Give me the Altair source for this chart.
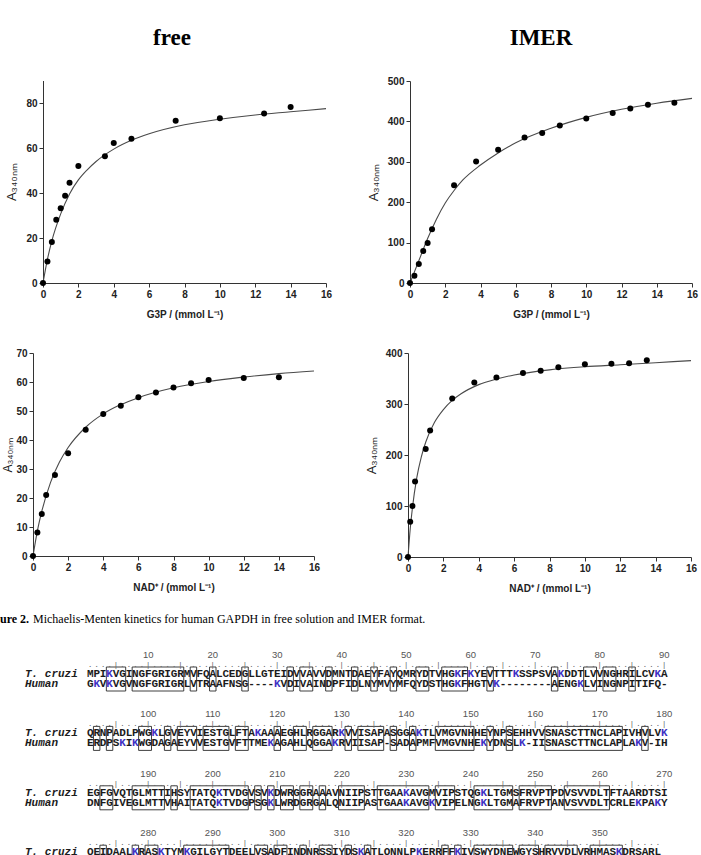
import altair as alt
import pandas as pd

W, H = 701, 855

# ---------------- kinetics ----------------
free_g3p_s = [0, 0.25, 0.5, 0.75, 1.0, 1.25, 1.5, 2.0, 3.5, 4.0, 5.0, 7.5, 10.0, 12.5, 14.0]
free_g3p_a = [0, 9.6, 18.2, 28.1, 33.2, 38.8, 44.6, 52.0, 56.3, 62.2, 64.1, 72.1, 73.2, 75.3, 78.2]
free_g3p_fit_s = [0, 0.25, 0.5, 1, 1.5, 2, 2.5, 3, 4, 5, 6, 8, 10, 12, 14, 16]
free_g3p_fit_a = [0, 10.5, 18.7, 30.7, 39.6, 45.8, 50.3, 54.0, 59.5, 63.4, 66.3, 70.3, 72.8, 74.7, 76.1, 77.5]

imer_g3p_s = [0, 0.25, 0.5, 0.75, 1.0, 1.25, 2.5, 3.75, 5.0, 6.5, 7.5, 8.5, 10.0, 11.5, 12.5, 13.5, 15.0]
imer_g3p_a = [0, 18, 47, 79, 99, 133, 242, 301, 330, 360, 371, 390, 407, 421, 432, 441, 446]
imer_g3p_fit_s = [0, 0.5, 1, 1.5, 2, 2.5, 3, 4, 5, 6, 8, 10, 12, 14, 16]
imer_g3p_fit_a = [0, 55, 110, 158, 198, 229, 255, 292, 322, 347, 383, 410, 430, 445, 457]

free_nad_s = [0, 0.25, 0.5, 0.75, 1.25, 2, 3, 4, 5, 6, 7, 8, 9, 10, 12, 14]
free_nad_a = [0, 8.1, 14.5, 21.0, 27.9, 35.4, 43.5, 49.0, 51.8, 54.7, 56.4, 58.1, 59.6, 60.7, 61.4, 61.6]
free_nad_fit_s = [0, 0.25, 0.5, 1, 1.5, 2, 3, 4, 5, 6, 8, 10, 12, 14, 16]
free_nad_fit_a = [0, 8.7, 15.4, 25.4, 32.3, 37.4, 44.4, 49.0, 52.2, 54.6, 58.0, 60.2, 61.7, 62.9, 63.8]

imer_nad_s = [0, 0.125, 0.25, 0.4, 1.0, 1.25, 2.5, 3.75, 5.0, 6.5, 7.5, 8.5, 10.0, 11.5, 12.5, 13.5]
imer_nad_a = [0, 69, 100, 148, 212, 248, 311, 342, 352, 361, 365, 372, 378, 379, 380, 386]
imer_nad_fit_s = [0, 0.1, 0.25, 0.5, 0.75, 1, 1.5, 2, 2.5, 3, 4, 5, 6, 8, 10, 12, 14, 16]
imer_nad_fit_a = [0, 45, 96, 156, 196, 225, 264, 289, 307, 320, 338, 349, 357, 367, 373, 377, 381, 385]

x_ticks = [0, 2, 4, 6, 8, 10, 12, 14, 16]
g3p_title = "G3P / (mmol L⁻¹)"
nad_title = "NAD⁺ / (mmol L⁻¹)"
y_title = "A₃₄₀ₙₘ"

# ---------------- alignment ----------------
cruzi_rows = [
    "MPIKVGINGFGRIGRMVFQALCEDGLLGTEIDVVAVVDMNTDAEYFAYQMRYDTVHGKFKYEVTTTKSSPSVAKDDTLVVNGHRILCVKA",
    "QRNPADLPWGKLGVEYVIESTGLFTAKAAAEGHLRGGARKVVISAPASGGAKTLVMGVNHHEYNPSEHHVVSNASCTTNCLAPIVHVLVK",
    "EGFGVQTGLMTTIHSYTATQKTVDGVSVKDWRGGRAAAVNIIPSTTGAAKAVGMVIPSTQGKLTGMSFRVPTPDVSVVDLTFTAARDTSI",
    "QEIDAALKRASKTYMKGILGYTDEELVSADFINDNRSSIYDSKATLQNNLPKERRFFKIVSWYDNEWGYSHRVVDLVRHMASKDRSARL",
]
human_rows = [
    "GKVKVGVNGFGRIGRLVTRAAFNSG----KVDIVAINDPFIDLNYMVYMFQYDSTHGKFHGTVK--------AENGKLVINGNPITIFQ-",
    "ERDPSKIKWGDAGAEYVVESTGVFTTMEKAGAHLQGGAKRVIISAP-SADAPMFVMGVNHEKYDNSLK-IISNASCTTNCLAPLAKV-IH",
    "DNFGIVEGLMTTVHAITATQKTVDGPSGKLWRDGRGALQNIIPASTGAAKAVGKVIPELNGKLTGMAFRVPTANVSVVDLTCRLEKPAKY",
    "DDIKKVVKQASEGPLKGILGYTEHQVVSSDFNSDTHSSTFDAGAG----IALNDHFVKLISWYDNEFGYSNRVVDLMAHMASKE-----",
]
names = ["T. cruzi", "Human"]
block_len = 90

BLUE = "#3d2fc4"
INK = "#1c1c1c"


def kin_panel(s, a, fs, fa, xr, yr, ydom, yticks, xtitle, tpad=7, tsize=13):
    xs = alt.Scale(domain=[0, 16], range=xr, nice=False, zero=False)
    ys = alt.Scale(domain=ydom, range=yr, nice=False, zero=False)
    xa = alt.Axis(orient="bottom", offset=yr[0] - H, values=x_ticks, title=xtitle,
                  titlePadding=10, labelFlush=False)
    ya = alt.Axis(orient="left", offset=-xr[0], values=yticks, title=y_title,
                  titleFontWeight="normal", titleFontSize=tsize, titlePadding=tpad)
    fit = alt.Chart(pd.DataFrame({"s": fs, "a": fa})).mark_line(
        interpolate="monotone", color="#4a4a4a", strokeWidth=1.1
    ).encode(x=alt.X("s:Q", scale=xs, axis=xa), y=alt.Y("a:Q", scale=ys, axis=ya))
    pts = alt.Chart(pd.DataFrame({"s": s, "a": a})).mark_circle(
        size=36, color="black", opacity=1
    ).encode(x=alt.X("s:Q", scale=xs, axis=xa), y=alt.Y("a:Q", scale=ys, axis=ya))
    return alt.layer(fit, pts)


p_tl = kin_panel(free_g3p_s, free_g3p_a, free_g3p_fit_s, free_g3p_fit_a,
                 [43, 326], [283, 80.5], [0, 90], [0, 20, 40, 60, 80], g3p_title)
p_tr = kin_panel(imer_g3p_s, imer_g3p_a, imer_g3p_fit_s, imer_g3p_fit_a,
                 [410, 692], [283, 81], [0, 500], [0, 100, 200, 300, 400, 500], g3p_title)
p_bl = kin_panel(free_nad_s, free_nad_a, free_nad_fit_s, free_nad_fit_a,
                 [33, 314], [556, 353], [0, 70], [0, 10, 20, 30, 40, 50, 60, 70], nad_title,
                 tpad=1, tsize=12)
p_br = kin_panel(imer_nad_s, imer_nad_a, imer_nad_fit_s, imer_nad_fit_a,
                 [408, 691], [557, 353], [0, 400], [0, 100, 200, 300, 400], nad_title)

# ---------------- alignment tables ----------------
cr, hu, nums, ruler, boxes, nm = [], [], [], [], [], []
for b in range(len(cruzi_rows)):
    c, h = cruzi_rows[b], human_rows[b]
    for i, ch in enumerate(c):
        cr.append({"block": b, "pos": i + 1, "ch": ch})
        ruler.append({"block": b, "pos": i + 1, "ch": "|" if (i + 1) % 5 == 0 else "."})
        if (i + 1) % 10 == 0:
            nums.append({"block": b, "pos": i + 1, "lab": str(b * block_len + i + 1)})
    for i, ch in enumerate(h):
        hu.append({"block": b, "pos": i + 1, "ch": ch})
    start = None
    n = min(len(c), len(h))
    for i in range(n + 1):
        same = i < n and c[i] == h[i] and c[i] != "-"
        if same and start is None:
            start = i + 1
        if not same and start is not None:
            boxes.append({"block": b, "x1": start - 0.5, "x2": i + 0.5})
            start = None
    nm.append({"block": b, "n1": names[0], "n2": names[1]})

cr_df, hu_df = pd.DataFrame(cr), pd.DataFrame(hu)
num_df, ru_df = pd.DataFrame(nums), pd.DataFrame(ruler)
box_df, nm_df = pd.DataFrame(boxes), pd.DataFrame(nm)

ROW_DY = 10
xs_al = alt.Scale(domain=[0.5, 90.5], range=[87, 667.5], nice=False, zero=False)
ys_al = alt.Scale(domain=[0, 3], range=[674, 674 + 3 * 59.4], nice=False, zero=False)
X_AL = alt.X("pos:Q", scale=xs_al, axis=None)
Y_AL = alt.Y("block:Q", scale=ys_al, axis=None)
kcolor = alt.condition(alt.datum.ch == "K", alt.value(BLUE), alt.value(INK))

box_layer = alt.Chart(box_df).mark_rect(
    fillOpacity=0, stroke="#2a2a2a", strokeWidth=0.9, yOffset=-7, y2Offset=ROW_DY + 7
).encode(x=alt.X("x1:Q", scale=xs_al, axis=None), x2="x2:Q", y=Y_AL, y2="block:Q")
cr_layer = alt.Chart(cr_df).mark_text(
    font="Liberation Mono", fontSize=11, fontWeight="bold", baseline="middle"
).encode(x=X_AL, y=Y_AL, text="ch:N", color=kcolor)
hu_layer = alt.Chart(hu_df).mark_text(
    font="Liberation Mono", fontSize=11, fontWeight="bold", baseline="middle", dy=ROW_DY
).encode(x=X_AL, y=Y_AL, text="ch:N", color=kcolor)
num_layer = alt.Chart(num_df).mark_text(
    font="Liberation Sans", fontSize=9.5, color="#555", baseline="middle", dy=-19
).encode(x=X_AL, y=Y_AL, text="lab:N")
ru_layer = alt.Chart(ru_df).mark_text(
    font="Liberation Mono", fontSize=8, color="#666", baseline="middle", dy=-9
).encode(x=X_AL, y=Y_AL, text="ch:N")
n1_layer = alt.Chart(nm_df).mark_text(
    font="Liberation Mono", fontSize=11, fontWeight="bold", fontStyle="italic",
    align="left", baseline="middle", color=INK
).encode(x=alt.value(25), y=Y_AL, text="n1:N")
n2_layer = alt.Chart(nm_df).mark_text(
    font="Liberation Mono", fontSize=11, fontWeight="bold", fontStyle="italic",
    align="left", baseline="middle", color=INK, dy=ROW_DY
).encode(x=alt.value(25), y=Y_AL, text="n2:N")

align_layer = alt.layer(box_layer, ru_layer, num_layer, cr_layer, hu_layer, n1_layer, n2_layer)

# ---------------- titles & caption ----------------
def label(txt, x, y, **kw):
    return alt.Chart(pd.DataFrame({"t": [txt]})).mark_text(**kw).encode(
        x=alt.value(x), y=alt.value(y), text="t:N")

t_free = label("free", 172, 38, font="Liberation Serif", fontSize=23, fontWeight="bold",
               baseline="middle", color="black")
t_imer = label("IMER", 541, 38, font="Liberation Serif", fontSize=23, fontWeight="bold",
               baseline="middle", color="black")
cap1 = label("ure 2.", 0, 619, font="Liberation Serif", fontSize=12, fontWeight="bold",
             align="left", baseline="middle", color="black")
cap2 = label("Michaelis-Menten kinetics for human GAPDH in free solution and IMER format.",
             33, 619, font="Liberation Serif", fontSize=12, align="left",
             baseline="middle", color="black")

chart = alt.layer(
    p_tl, p_tr, p_bl, p_br, align_layer, t_free, t_imer, cap1, cap2
).resolve_scale(
    x="independent", y="independent"
).resolve_axis(
    x="independent", y="independent"
).properties(
    width=W, height=H, autosize=alt.AutoSizeParams(type="none"), padding=0
).configure_view(
    strokeWidth=0
).configure_axis(
    labelFont="Liberation Sans", labelFontSize=10, labelFontWeight="bold", labelColor="#222",
    titleFont="Liberation Sans", titleFontSize=10, titleFontWeight="bold", titleColor="#222",
    domainColor="#333", tickColor="#333", tickSize=4, labelPadding=2, grid=False
)

chart.save("out.html", embed_options={"renderer": "svg", "actions": False})
